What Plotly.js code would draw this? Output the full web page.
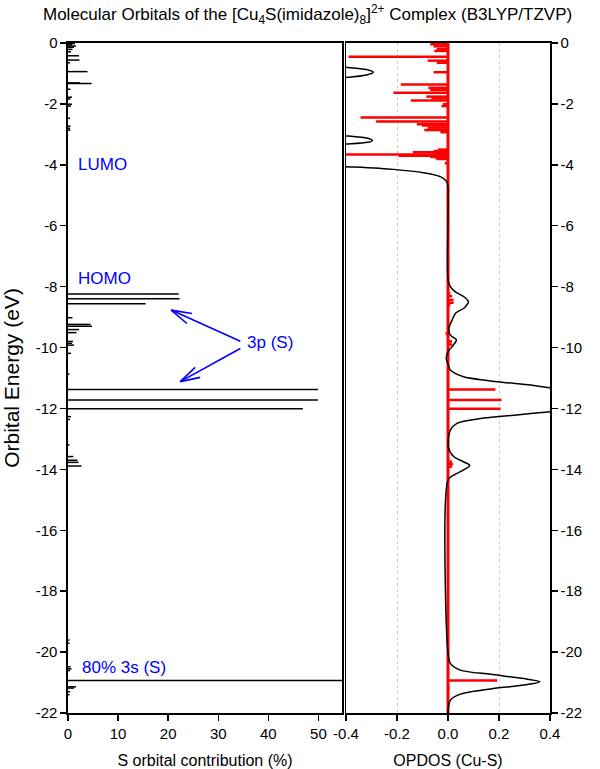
<!DOCTYPE html>
<html>
<head>
<meta charset="utf-8">
<script src="https://cdn.plot.ly/plotly-3.0.1.min.js"></script>
<style>html,body{margin:0;padding:0;background:#fff;}#chart{width:600px;height:769px;}</style>
</head>
<body>
<div id="chart"></div>
<script>
// Left panel: S orbital contribution (%) per molecular orbital energy (eV)
const sEnergy = [-0.02,-0.06,-0.10,-0.14,-0.21,-0.29,-0.42,-0.56,-0.65,-0.94,-1.31,-1.33,-1.52,-1.78,-1.84,-2.01,-2.07,-2.47,-2.73,-2.80,-2.86,
  -8.24,-8.40,-8.56,-9.02,-9.24,-9.30,-9.41,-9.51,-9.80,-9.86,-9.92,-10.19,-10.87,-11.38,-11.72,-12.01,-12.27,-12.36,
  -13.20,-13.58,-13.70,-13.77,-13.89,-19.60,-19.71,-20.48,-20.55,-20.60,-20.93,-21.14,-21.18,-21.30,-21.40];
const sPct = [1.4,0.8,1.6,1.2,0.9,0.6,2.2,2.3,0.4,3.9,2.4,4.7,0.5,0.8,0.5,0.8,0.6,0.4,0.5,0.4,0.5,
  22.1,22.3,15.5,0.9,4.5,4.8,2.2,1.7,1.0,0.8,1.2,0.6,0.3,49.9,49.9,46.9,0.6,0.4,
  0.3,1.1,1.9,2.1,2.7,0.3,0.3,0.5,0.7,0.4,80,1.6,1.2,0.4,0.3];

// Right panel: OPDOS (Cu-S) sticks
const rEnergy = [-0.04,-0.11,-0.20,-0.26,-0.45,-0.58,-0.65,-0.96,-1.36,-1.47,-1.54,-1.63,-1.76,-1.82,-1.89,-2.01,-2.07,
  -2.45,-2.58,-2.67,-2.71,-2.78,-2.86,-2.93,-3.50,-3.53,-3.55,-3.59,-3.62,-3.66,-3.70,-3.74,-3.78,-3.81,-3.95,
  -8.22,-8.31,-8.44,-8.53,-8.60,-9.53,-9.59,-9.80,-9.90,-10.08,-10.19,-11.38,-11.72,-12.01,-13.75,-13.83,-13.91,-20.93,-21.18];
const rVal = [-0.07,-0.057,-0.044,-0.054,-0.39,-0.08,-0.044,-0.057,-0.185,-0.077,-0.07,-0.214,-0.085,-0.065,-0.146,-0.02,-0.026,
  -0.343,-0.282,-0.122,-0.102,-0.08,-0.093,-0.03,-0.04,-0.03,-0.057,-0.138,-0.06,-0.41,-0.194,-0.07,-0.05,-0.044,-0.013,
  0.009,0.016,0.022,0.022,0.009,-0.01,-0.006,0.016,0.016,0.005,-0.005,0.186,0.21,0.206,0.016,0.02,0.016,0.193,0.006];

// Right panel: broadened OPDOS curve (values beyond +-0.4 are off scale)
const curveE = [0,-0.70,-0.80,-0.87,-0.96,-1.05,-1.13,-1.22,-2.95,-3.05,-3.13,-3.20,-3.26,-3.32,-3.40,-3.98,-4.06,-4.15,-4.26,-4.39,-4.55,-4.8,
  -7.78,-8.00,-8.17,-8.35,-8.50,-8.62,-8.71,-8.88,-9.10,-9.37,-9.59,-9.75,-9.97,-10.14,-10.36,-10.55,-10.74,-10.96,-11.12,-11.23,-11.32,-11.40,
  -12.03,-12.11,-12.22,-12.33,-12.49,-12.71,-13.26,-13.58,-13.75,-13.87,-14.02,-14.19,-14.35,
  -20.04,-20.37,-20.59,-20.73,-20.87,-20.97,-21.08,-21.21,-21.38,-21.58,-21.9,-22];
const curveV = [-0.6,-0.6,-0.40,-0.32,-0.293,-0.32,-0.40,-0.6,-0.6,-0.40,-0.315,-0.297,-0.315,-0.40,-0.6,-0.6,-0.40,-0.214,-0.096,-0.03,-0.005,0,
  0,0.009,0.029,0.065,0.080,0.072,0.062,0.029,0.016,0.003,0.009,0.033,0.016,0.0,-0.007,0.0,0.009,0.061,0.193,0.324,0.40,0.6,
  0.6,0.40,0.258,0.127,0.035,0.009,0.001,0.022,0.061,0.085,0.061,0.022,0.0,
  0,0.009,0.048,0.167,0.298,0.36,0.298,0.167,0.048,0.009,0,0];

const yTicks = [0,-2,-4,-6,-8,-10,-12,-14,-16,-18,-20,-22];
const yTickText = ['0','-2','-4','-6','-8','-10','-12','-14','-16','-18','-20','-22'];
const x1Ticks = [0,10,20,30,40,50];
const x2Ticks = [-0.4,-0.2,0,0.2,0.4];
const x2TickText = ['-0.4','-0.2','0.0','0.2','0.4'];

function sticks(base, pos, val){
  const x=[], y=[];
  for(let i=0;i<pos.length;i++){ x.push(base, val[i], null); y.push(pos[i], pos[i], null); }
  return {x, y};
}
const ls = sticks(0, sEnergy, sPct);
const rs = sticks(0, rEnergy, rVal);

const FONT = 'Liberation Sans, Arial, sans-serif';
const traces = [
  {type:'scatter', mode:'lines', x:ls.x, y:ls.y, xaxis:'x', yaxis:'y', line:{color:'#000', width:1.5}, hoverinfo:'skip'},
  {type:'scatter', mode:'lines', x:[0,0], y:[0,-22], xaxis:'x2', yaxis:'y2', line:{color:'#ff0000', width:3}, hoverinfo:'skip'},
  {type:'scatter', mode:'lines', x:rs.x, y:rs.y, xaxis:'x2', yaxis:'y2', line:{color:'#ff0000', width:2.5}, hoverinfo:'skip'},
  {type:'scatter', mode:'lines', x:curveV, y:curveE, xaxis:'x2', yaxis:'y2', line:{color:'#000', width:1.5, shape:'spline', smoothing:0.8}, hoverinfo:'skip'}
];

const axCommon = {showline:true, linecolor:'#000', linewidth:1.5, mirror:true, ticks:'outside', ticklen:6, tickwidth:1.5, tickcolor:'#000',
  zeroline:false, showgrid:false, tickfont:{family:FONT, size:15, color:'#000'}, fixedrange:true};

const blue = '#0000ff';
function seg(x0, y0, x1, y1){
  return {type:'line', xref:'x', yref:'y', x0:x0, y0:y0, x1:x1, y1:y1, line:{color:blue, width:1.6}};
}

const layout = {
  width:600, height:769, margin:{l:0,r:0,t:0,b:0}, paper_bgcolor:'#fff', plot_bgcolor:'#fff', showlegend:false,
  font:{family:FONT, color:'#000'},
  xaxis: Object.assign({}, axCommon, {domain:[0.1133,0.57], range:[0,54.7], anchor:'y', tickvals:x1Ticks,
    title:{text:'S orbital contribution (%)', font:{family:FONT, size:16}}}),
  yaxis: Object.assign({}, axCommon, {domain:[0.0728,0.9441], range:[-22,0], anchor:'x', tickvals:yTicks, ticktext:yTickText,
    title:{text:'Orbital Energy (eV)', font:{family:FONT, size:21}}}),
  xaxis2: Object.assign({}, axCommon, {domain:[0.5767,0.9167], range:[-0.4,0.4], anchor:'y2', tickvals:x2Ticks, ticktext:x2TickText,
    showgrid:true, gridcolor:'#c8c8c8', griddash:'dot', gridwidth:1,
    title:{text:'OPDOS (Cu-S)', font:{family:FONT, size:16}}}),
  yaxis2: Object.assign({}, axCommon, {domain:[0.0728,0.9441], range:[-22,0], anchor:'x2', side:'right', tickvals:yTicks, ticktext:yTickText}),
  annotations:[
    {xref:'paper', yref:'paper', x:0.512, y:0.9805, xanchor:'center', yanchor:'middle', showarrow:false,
     text:'Molecular Orbitals of the [Cu<sub>4</sub>S(imidazole)<sub>8</sub>]<sup>2+</sup> Complex (B3LYP/TZVP)', font:{family:FONT, size:17, color:'#000'}},
    {xref:'x', yref:'y', x:1.6, y:-4.0, xanchor:'left', yanchor:'middle', showarrow:false, text:'LUMO', font:{family:FONT, size:17, color:blue}},
    {xref:'x', yref:'y', x:1.6, y:-7.72, xanchor:'left', yanchor:'middle', showarrow:false, text:'HOMO', font:{family:FONT, size:17, color:blue}},
    {xref:'x', yref:'y', x:35.4, y:-9.82, xanchor:'left', yanchor:'middle', showarrow:false, text:'3p (S)', font:{family:FONT, size:17, color:blue}},
    {xref:'x', yref:'y', x:2.4, y:-20.5, xanchor:'left', yanchor:'middle', showarrow:false, text:'80% 3s (S)', font:{family:FONT, size:17, color:blue}}
  ],
  shapes:[
    seg(34.4,-9.79,20.6,-8.77), seg(20.6,-8.77,24.74,-8.88), seg(20.6,-8.77,23.74,-9.21),
    seg(34.4,-10.03,22.4,-11.12), seg(22.4,-11.12,25.4,-10.65), seg(22.4,-11.12,26.4,-10.98)
  ]
};

Plotly.newPlot('chart', traces, layout, {displayModeBar:false, staticPlot:true});
</script>
</body>
</html>
